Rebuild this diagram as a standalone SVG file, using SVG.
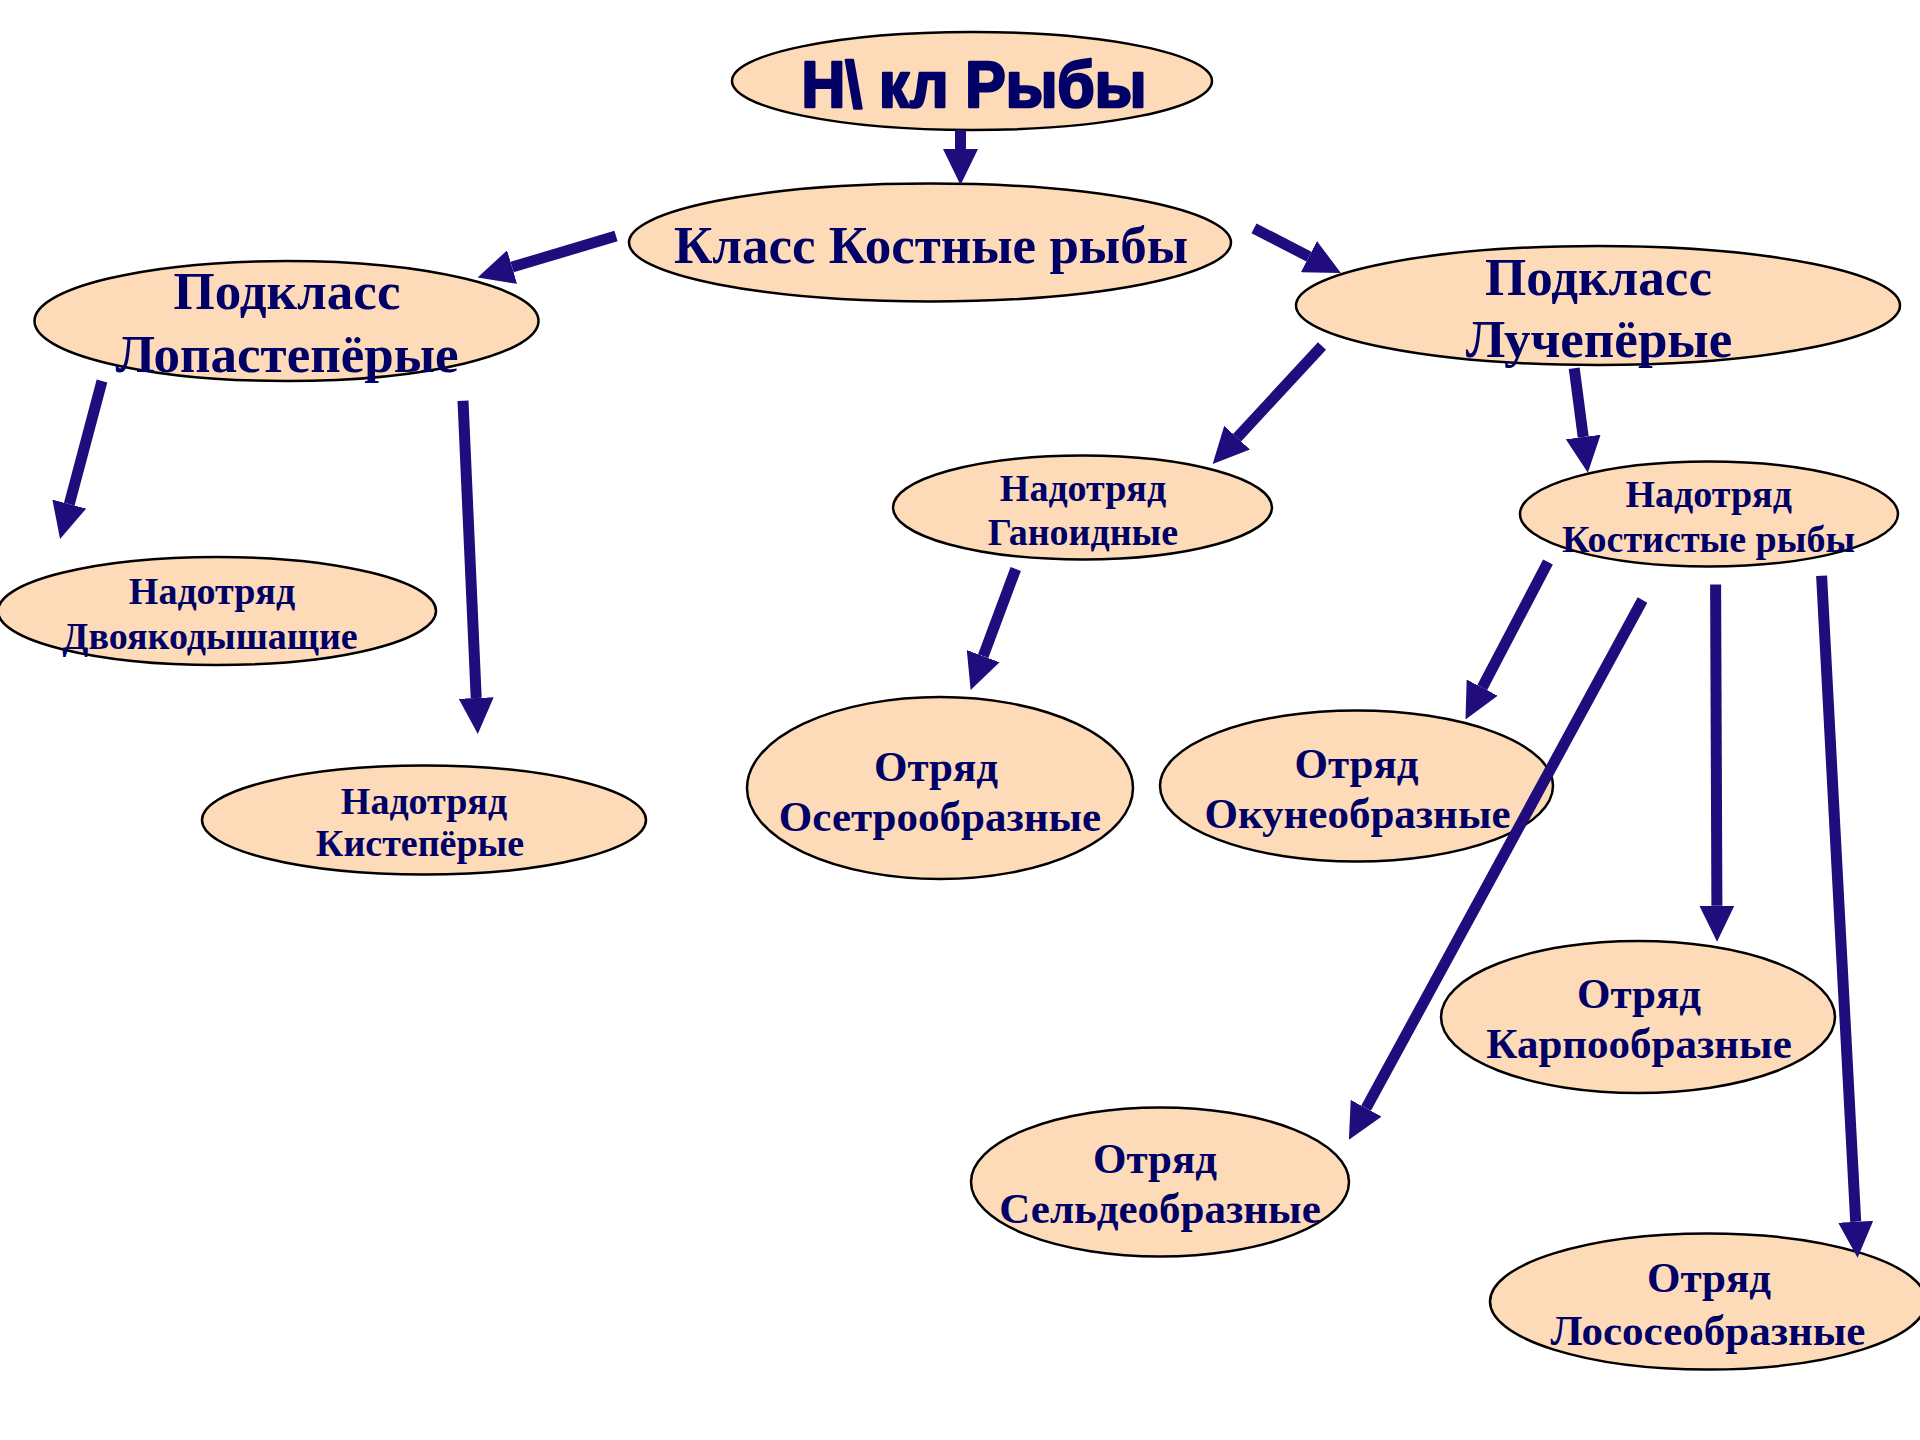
<svg xmlns="http://www.w3.org/2000/svg" width="1920" height="1440" viewBox="0 0 1920 1440">
<style>
.node ellipse{fill:#FDDBB8;stroke:#000;stroke-width:2.5}
.node text{font-family:"Liberation Serif","Times New Roman",serif;font-weight:bold;fill:#000066;text-anchor:middle}
.big text{font-size:53px}
.mid text{font-size:43px}
.small text{font-size:38px}
.title text{font-family:"Liberation Sans",Arial,sans-serif;font-weight:bold;font-size:64px;fill:#000066;stroke:#000066;stroke-width:2.6;stroke-linejoin:round;text-anchor:middle}
#connectors line{stroke:#200C7C;stroke-width:11;fill:none;marker-end:url(#ah)}
</style>
<defs>
<marker id="ah" markerUnits="userSpaceOnUse" markerWidth="36" markerHeight="35" viewBox="0 0 36 35" refX="0" refY="17.5" orient="auto">
<path d="M0,0 L36,17.5 L0,35 Z" fill="#200C7C"/>
</marker>
</defs>
<rect width="1920" height="1440" fill="#fff"/>
<g id="node-root" class="node title">
<ellipse cx="972" cy="81" rx="240" ry="49"/>
<text x="974" y="106.7" textLength="345" lengthAdjust="spacingAndGlyphs">Н\ кл Рыбы</text>
</g>
<g id="node-class" class="node big">
<ellipse cx="930" cy="242.5" rx="301" ry="59"/>
<text x="931" y="263.3">Класс Костные рыбы</text>
</g>
<g id="node-lopaste" class="node big">
<ellipse cx="286.5" cy="321" rx="252" ry="60"/>
<text x="287" y="309">Подкласс</text>
<text x="287" y="372">Лопастепёрые</text>
</g>
<g id="node-luchep" class="node big">
<ellipse cx="1598" cy="305.5" rx="302" ry="59.5"/>
<text x="1598.5" y="295">Подкласс</text>
<text x="1599" y="356.7">Лучепёрые</text>
</g>
<g id="node-dvoyako" class="node small">
<ellipse cx="217" cy="611" rx="219" ry="54"/>
<text x="212" y="604">Надотряд</text>
<text x="210" y="648.6">Двоякодышащие</text>
</g>
<g id="node-kistep" class="node small">
<ellipse cx="424" cy="820" rx="222" ry="54.5"/>
<text x="424" y="813.8">Надотряд</text>
<text x="420" y="856">Кистепёрые</text>
</g>
<g id="node-ganoid" class="node small">
<ellipse cx="1082.5" cy="507.5" rx="189.5" ry="52"/>
<text x="1083" y="501">Надотряд</text>
<text x="1083" y="544.7">Ганоидные</text>
</g>
<g id="node-kostist" class="node small">
<ellipse cx="1709" cy="514" rx="189" ry="52.5"/>
<text x="1708.7" y="506.7">Надотряд</text>
<text x="1708.5" y="551.7">Костистые рыбы</text>
</g>
<g id="node-osetr" class="node mid">
<ellipse cx="940" cy="788" rx="193" ry="91"/>
<text x="936" y="780.6">Отряд</text>
<text x="940" y="830.7">Осетрообразные</text>
</g>
<g id="node-okune" class="node mid">
<ellipse cx="1356.5" cy="786" rx="196.5" ry="75.5"/>
<text x="1356.5" y="777.5">Отряд</text>
<text x="1357.5" y="827.5">Окунеобразные</text>
</g>
<g id="node-karpo" class="node mid">
<ellipse cx="1638" cy="1017" rx="197" ry="76"/>
<text x="1639" y="1008">Отряд</text>
<text x="1639" y="1058">Карпообразные</text>
</g>
<g id="node-seld" class="node mid">
<ellipse cx="1160" cy="1182" rx="189" ry="74.5"/>
<text x="1155" y="1173">Отряд</text>
<text x="1160" y="1223">Сельдеобразные</text>
</g>
<g id="node-losos" class="node mid">
<ellipse cx="1708" cy="1301.5" rx="218" ry="68"/>
<text x="1709" y="1291.7">Отряд</text>
<text x="1708" y="1345">Лососеобразные</text>
</g>
<g id="connectors">
<line x1="960.5" y1="130" x2="960.5" y2="149"/>
<line x1="616" y1="236" x2="512.1" y2="267.1"/>
<line x1="1254" y1="228.3" x2="1308.9" y2="256.6"/>
<line x1="1322" y1="346" x2="1237.1" y2="437.7"/>
<line x1="1574.2" y1="368.3" x2="1583.2" y2="437"/>
<line x1="102" y1="381" x2="69.3" y2="504.1"/>
<line x1="463" y1="400.8" x2="476.2" y2="698"/>
<line x1="1015.7" y1="569" x2="983.2" y2="656.2"/>
<line x1="1548" y1="562" x2="1482.2" y2="687.6"/>
<line x1="1642.5" y1="600" x2="1366.1" y2="1108.2"/>
<line x1="1715.6" y1="584.6" x2="1716.9" y2="905.7"/>
<line x1="1821.6" y1="575.7" x2="1855.7" y2="1221.8"/>
</g>
</svg>
